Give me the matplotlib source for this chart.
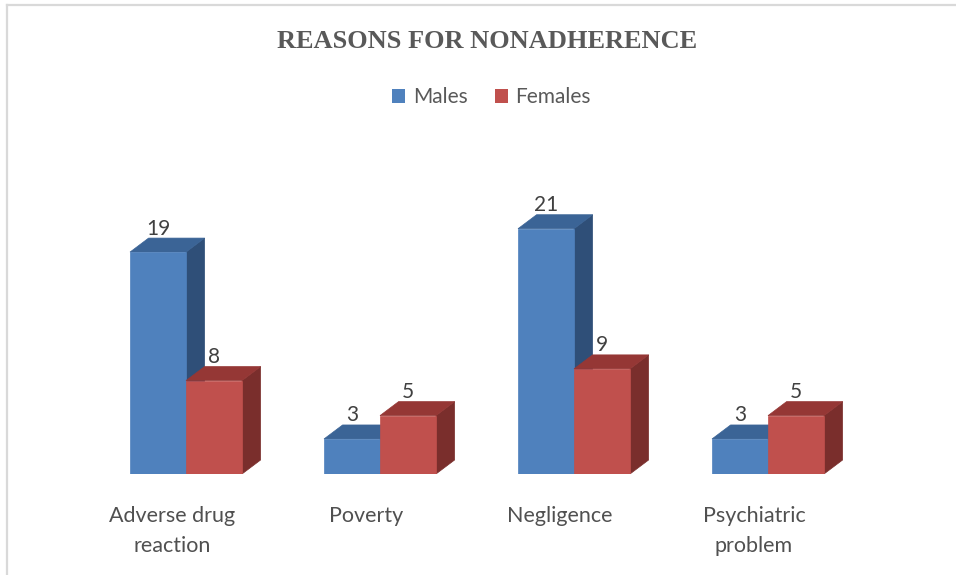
#!/usr/bin/env python3
"""Reasons for nonadherence: males vs females, Excel-style 3D columns."""
import matplotlib
matplotlib.use("Agg")
import matplotlib.pyplot as plt
from matplotlib.patches import Polygon, Patch
from matplotlib.lines import Line2D

categories = ["Adverse drug\nreaction", "Poverty", "Negligence", "Psychiatric\nproblem"]
males = [19, 3, 21, 3]
females = [8, 5, 9, 5]
series_names = ["Males", "Females"]

# face colours: front, top, side
BLUE = ("#4F81BD", "#3B6496", "#2F4F78")
RED = ("#C0504D", "#953735", "#7A2E2C")

plt.rcParams['font.family'] = ['Lato', 'DejaVu Sans']

W, H = 956, 575
fig = plt.figure(figsize=(W / 100, H / 100), dpi=100)

# axes placed in pixel terms: group centre 0 at x=186px, 194px per group; baseline 474px, 11.68 px/unit
px_per_cat = 194.0
px_per_val = 11.68
x0_px, x1_px = 40, 940
xmin = (x0_px - 186) / px_per_cat
xmax = (x1_px - 186) / px_per_cat
ytop = 26
ax = fig.add_axes([x0_px / W, (H - 474) / H, (x1_px - x0_px) / W, ytop * px_per_val / H])
ax.set_xlim(xmin, xmax)
ax.set_ylim(0, ytop)
ax.axis("off")

bw = 56 / px_per_cat      # bar width
dx = 18.6 / px_per_cat    # depth offset
dy = 14 / px_per_val


def bar3d(x, v, cols):
    front, top, side = cols
    ax.add_patch(Polygon([(x + bw, 0), (x + bw + dx, dy), (x + bw + dx, v + dy), (x + bw, v)],
                         closed=True, facecolor=side, edgecolor=side, lw=0.5))
    ax.add_patch(Polygon([(x, v), (x + dx, v + dy), (x + bw + dx, v + dy), (x + bw, v)],
                         closed=True, facecolor=top, edgecolor=top, lw=0.5))
    ax.bar(x, v, width=bw, align="edge", color=front, edgecolor=front, lw=0.5)
    ax.text(x + bw / 2, v + dy + 0.3, str(v), ha="center", va="baseline",
            fontsize=15, color="#404040")


for i in range(len(categories)):
    bar3d(i - bw, males[i], BLUE)
    bar3d(i, females[i], RED)
    ax.text(i - 14 / px_per_cat, -2.75, categories[i], ha="center", va="top",
            fontsize=15.5, color="#505050", linespacing=1.62)

fig.text(0.51, 1 - 42 / H, "REASONS FOR NONADHERENCE", ha="center", va="center",
         fontsize=19, fontweight="bold", family="Liberation Serif", color="#595959")

handles = [Patch(facecolor=BLUE[0]), Patch(facecolor=RED[0])]
fig.legend(handles, series_names, loc="center", bbox_to_anchor=(0.514, 1 - 97 / H), ncol=2,
           frameon=False, fontsize=15, handlelength=0.65, handleheight=0.65,
           handletextpad=0.35, columnspacing=1.3, labelcolor="#595959")

# chart area border (only top and left edges show in the crop)
fig.add_artist(Line2D([7 / W, 7 / W], [0, 1 - 5 / H], color="#D9D9D9", lw=1.6))
fig.add_artist(Line2D([7 / W, 1], [1 - 5 / H, 1 - 5 / H], color="#D9D9D9", lw=1.6))

fig.savefig("out.png", dpi=100)
